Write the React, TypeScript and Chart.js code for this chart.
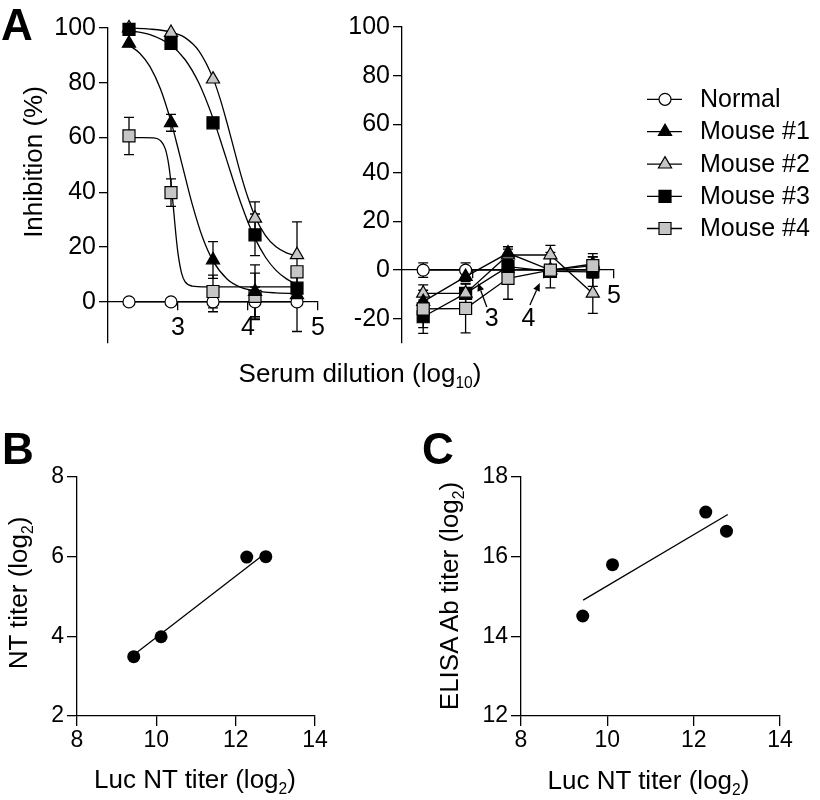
import React, { useEffect, useRef } from 'react';
import { Chart, registerables } from 'chart.js';

Chart.register(...registerables);

const FONT = '"Liberation Sans", Arial, Helvetica, sans-serif';
const GRAY = '#c6c6c6';

// ---------- Panel A data ----------
const dilutionLog10 = [2.3, 2.9, 3.5, 4.1, 4.7];
const seriesLabels = ['Normal', 'Mouse #1', 'Mouse #2', 'Mouse #3', 'Mouse #4'];

// left plot
const normalLeft = [0, 0, 0, 0, 0];
const normalLeftErr = [0, 0, 3.6, 5.4, 10.8];
const mouse1Left = [94.4, 65.4, 15.3, 3.8, 2.6];
const mouse1LeftErr = [0, 3.1, 6.7, 9.7, 0];
const mouse2Left = [100, 98.3, 81.3, 30.5, 17.2];
const mouse2LeftErr = [0, 0, 0, 6, 12];
const mouse3Left = [99.5, 94.4, 65.4, 24.5, 5];
const mouse3LeftErr = [0, 0, 0, 7.6, 0];
const mouse4Left = [60.6, 39.9, 3.8, 2, 11];
const mouse4LeftErr = [6.8, 5, 6, 8.5, 0];

// fitted curves
const fit1X = [2.3, 2.45, 2.6, 2.75, 2.9, 3.0, 3.1, 3.2, 3.35, 3.5, 3.7, 3.9, 4.1, 4.4, 4.7];
const fit1Y = [93.7, 90.9, 85.9, 77.7, 65.8, 56.1, 45.9, 36.0, 23.6, 15.0, 8.4, 5.3, 4.0, 3.3, 3.1];
const fit2X = [2.3, 2.6, 2.9, 3.1, 3.3, 3.5, 3.6, 3.7, 3.8, 3.9, 4.0, 4.1, 4.25, 4.4, 4.55, 4.7];
const fit2Y = [99.9, 99.6, 98.5, 96.5, 91.6, 81.7, 74.3, 65.4, 55.8, 46.3, 38.0, 31.2, 24.2, 20.1, 17.9, 16.7];
const fit3X = [2.3, 2.6, 2.9, 3.1, 3.3, 3.5, 3.6, 3.7, 3.8, 3.9, 4.0, 4.1, 4.25, 4.4, 4.55, 4.7];
const fit3Y = [99.1, 97.6, 93.7, 88.5, 79.8, 67.1, 59.5, 51.5, 43.5, 35.9, 29.1, 23.2, 16.3, 11.5, 8.4, 6.3];
const fit4X = [2.3, 2.5, 2.65, 2.75, 2.82, 2.87, 2.91, 2.94, 2.97, 3.0, 3.05, 3.1, 3.2, 3.4, 4.0, 4.7];
const fit4Y = [60.0, 60.0, 59.9, 58.9, 55.8, 49.7, 41.0, 32.8, 24.5, 17.7, 10.6, 7.4, 5.8, 5.5, 5.5, 5.5];

// right plot
const normalRight = [0, 0, 0, 0, 0];
const normalRightErr = [3, 3, 0, 0, 0];
const mouse1Right = [-13, -2.7, 7, 0, 2.5];
const mouse1RightErr = [0, 2, 2.6, 1, 3];
const mouse2Right = [-9.6, -9.6, 6.2, 6.2, -9.6];
const mouse2RightErr = [3.5, 0, 2.4, 4, 8.2];
const mouse3Right = [-19.2, -9.6, 1.4, -0.5, -0.7];
const mouse3RightErr = [6.8, 4, 2, 2, 6];
const mouse4Right = [-16, -15.8, -3.4, 0, 1.8];
const mouse4RightErr = [7.7, 10, 8.6, 7.3, 5];

const yTicksLeft = [0, 20, 40, 60, 80, 100];
const yTicksRight = [-20, 0, 20, 40, 60, 80, 100];
const xTicksA = [3, 4, 5];

// ---------- Panel B / C data ----------
const lucNtTiter = [9.43, 10.12, 12.28, 12.76];
const ntTiter = [3.49, 3.99, 5.99, 6.0];
const fitBX = [9.45, 12.7];
const fitBY = [3.55, 6.05];
const elisaTiter = [14.51, 15.8, 17.12, 16.64];
const fitCX = [9.44, 12.79];
const fitCY = [14.91, 17.06];
const titerTicks = [8, 10, 12, 14];
const ntTicks = [2, 4, 6, 8];
const elisaTicks = [12, 14, 16, 18];

// ---------- styles ----------
const markerStyles = [
  { pointStyle: 'circle', fill: '#ffffff', radius: 6 },
  { pointStyle: 'triangle', fill: '#000000', radius: 7.6 },
  { pointStyle: 'triangle', fill: GRAY, radius: 7.6 },
  { pointStyle: 'rect', fill: '#000000', radius: 8.5 },
  { pointStyle: 'rect', fill: GRAY, radius: 8.5 },
];

const pts = (xs: number[], ys: number[]) => xs.map((x, i) => ({ x, y: ys[i] }));

function markerDataset(i: number, ys: number[], errs: number[], order: number, showLine: boolean) {
  const s = markerStyles[i];
  return {
    label: seriesLabels[i],
    data: pts(dilutionLog10, ys),
    errors: errs,
    showLine,
    borderColor: '#000',
    borderWidth: 1.3,
    pointStyle: s.pointStyle,
    pointRadius: s.radius,
    pointBackgroundColor: s.fill,
    pointBorderColor: '#000',
    pointBorderWidth: 1.2,
    order,
    clip: false,
  };
}

function curveDataset(xs: number[], ys: number[]) {
  return {
    label: '',
    data: pts(xs, ys),
    showLine: true,
    pointRadius: 0,
    borderColor: '#000',
    borderWidth: 1.3,
    cubicInterpolationMode: 'monotone',
    order: 20,
    clip: false,
  };
}

const errorBarPlugin = {
  id: 'errorBars',
  beforeDatasetsDraw(chart: any) {
    const ctx = chart.ctx;
    const yScale = chart.scales.y;
    chart.data.datasets.forEach((ds: any, i: number) => {
      const errs = ds.errors;
      if (!errs) return;
      const meta = chart.getDatasetMeta(i);
      ctx.save();
      ctx.strokeStyle = '#000';
      ctx.lineWidth = 1.3;
      meta.data.forEach((pt: any, j: number) => {
        const e = errs[j];
        if (!e) return;
        const v = ds.data[j].y;
        const yTop = yScale.getPixelForValue(v + e);
        const yBot = yScale.getPixelForValue(v - e);
        const x = pt.x;
        const cap = 5;
        ctx.beginPath();
        ctx.moveTo(x, yTop);
        ctx.lineTo(x, yBot);
        ctx.moveTo(x - cap, yTop);
        ctx.lineTo(x + cap, yTop);
        ctx.moveTo(x - cap, yBot);
        ctx.lineTo(x + cap, yBot);
        ctx.stroke();
      });
      ctx.restore();
    });
  },
};

function drawMarker(ctx: CanvasRenderingContext2D, style: string, x: number, y: number, r: number, fill: string) {
  ctx.beginPath();
  if (style === 'circle') {
    ctx.arc(x, y, r, 0, Math.PI * 2);
  } else if (style === 'triangle') {
    for (let k = 0; k < 3; k++) {
      const a = (k * 2 * Math.PI) / 3;
      const px = x + Math.sin(a) * r;
      const py = y - Math.cos(a) * r;
      if (k === 0) ctx.moveTo(px, py);
      else ctx.lineTo(px, py);
    }
    ctx.closePath();
  } else {
    const s = r * Math.SQRT1_2;
    ctx.rect(x - s, y - s, 2 * s, 2 * s);
  }
  ctx.fillStyle = fill;
  ctx.fill();
  ctx.lineWidth = 1.2;
  ctx.strokeStyle = '#000';
  ctx.stroke();
}

// legend layout (canvas pixels of the right-hand panel A canvas)
const legendLayout = { lineX0: 317, markerX: 335, lineX1: 352, textX: 370, rowY: [99.3, 131.7, 164.2, 196.3, 228.5], fontSize: 25 };

const legendPlugin = {
  id: 'seriesLegend',
  afterDraw(chart: any) {
    const ctx = chart.ctx as CanvasRenderingContext2D;
    ctx.save();
    seriesLabels.forEach((label, i) => {
      const y = legendLayout.rowY[i];
      const s = markerStyles[i];
      ctx.beginPath();
      ctx.moveTo(legendLayout.lineX0, y);
      ctx.lineTo(legendLayout.lineX1, y);
      ctx.lineWidth = 1.3;
      ctx.strokeStyle = '#000';
      ctx.stroke();
      drawMarker(ctx, s.pointStyle, legendLayout.markerX, y, s.radius, s.fill);
      ctx.fillStyle = '#000';
      ctx.font = `${legendLayout.fontSize}px ${FONT}`;
      ctx.textAlign = 'left';
      ctx.textBaseline = 'alphabetic';
      ctx.fillText(label, legendLayout.textX, y + 7.5);
    });
    ctx.restore();
  },
};

// displaced tick labels "3" and "4" with arrows (data coordinates)
const tickCallouts = [
  { text: '3', at: { x: 3.27, y: -20.2 }, tail: { x: 3.2, y: -15.2 }, tip: { x: 3.075, y: -5.3 } },
  { text: '4', at: { x: 3.79, y: -20.2 }, tail: { x: 3.81, y: -14.4 }, tip: { x: 3.95, y: -5.3 } },
];

const calloutPlugin = {
  id: 'tickCallouts',
  afterDatasetsDraw(chart: any) {
    const ctx = chart.ctx as CanvasRenderingContext2D;
    const xs = chart.scales.x;
    const ys = chart.scales.y;
    ctx.save();
    tickCallouts.forEach((c) => {
      const lx = xs.getPixelForValue(c.at.x);
      const ly = ys.getPixelForValue(c.at.y);
      ctx.fillStyle = '#000';
      ctx.font = `25px ${FONT}`;
      ctx.textAlign = 'center';
      ctx.textBaseline = 'middle';
      ctx.fillText(c.text, lx, ly);
      const tx = xs.getPixelForValue(c.tail.x);
      const ty = ys.getPixelForValue(c.tail.y);
      const hx = xs.getPixelForValue(c.tip.x);
      const hy = ys.getPixelForValue(c.tip.y);
      const ang = Math.atan2(hy - ty, hx - tx);
      const headLen = 8;
      const headW = 3.5;
      const bx = hx - Math.cos(ang) * headLen;
      const by = hy - Math.sin(ang) * headLen;
      ctx.beginPath();
      ctx.moveTo(tx, ty);
      ctx.lineTo(bx, by);
      ctx.lineWidth = 1.3;
      ctx.strokeStyle = '#000';
      ctx.stroke();
      ctx.beginPath();
      ctx.moveTo(hx, hy);
      ctx.lineTo(bx + Math.sin(ang) * headW, by - Math.cos(ang) * headW);
      ctx.lineTo(bx - Math.sin(ang) * headW, by + Math.cos(ang) * headW);
      ctx.closePath();
      ctx.fill();
    });
    ctx.restore();
  },
};

function axisBase(fontSize: number, tickLength: number, padding: number) {
  return {
    type: 'linear',
    border: { display: true, color: '#000', width: 1.3 },
    grid: { display: true, drawOnChartArea: false, drawTicks: true, tickLength, tickWidth: 1.3, tickColor: '#000', color: '#000', lineWidth: 1.3 },
    ticks: { color: '#000', font: { family: FONT, size: fontSize }, padding, autoSkip: false, maxRotation: 0, minRotation: 0 },
  };
}

function setTicks(values: number[]) {
  return (s: any) => {
    s.ticks = values.map((v) => ({ value: v }));
  };
}

function fixWidth(w: number) {
  return (s: any) => {
    s.width = w;
    s.paddingTop = 0;
    s.paddingBottom = 0;
  };
}

function fixHeight(h: number) {
  return (s: any) => {
    s.height = h;
    s.paddingLeft = 0;
    s.paddingRight = 0;
  };
}

function baseOptions(padding: any, scales: any) {
  return {
    responsive: false,
    animation: false,
    events: [],
    layout: { padding },
    plugins: { legend: { display: false }, tooltip: { enabled: false }, title: { display: false } },
    scales,
  };
}

function configALeft() {
  return {
    type: 'scatter',
    data: {
      datasets: [
        markerDataset(0, normalLeft, normalLeftErr, 5, true),
        markerDataset(1, mouse1Left, mouse1LeftErr, 1, false),
        markerDataset(2, mouse2Left, mouse2LeftErr, 4, false),
        markerDataset(3, mouse3Left, mouse3LeftErr, 2, false),
        markerDataset(4, mouse4Left, mouse4LeftErr, 3, false),
        curveDataset(fit1X, fit1Y),
        curveDataset(fit2X, fit2Y),
        curveDataset(fit3X, fit3Y),
        curveDataset(fit4X, fit4Y),
      ],
    },
    options: baseOptions(
      { top: 28, right: 12, bottom: 17, left: 0 },
      {
        x: { ...axisBase(25, 8, 3), min: 2, max: 5, position: { y: 0 }, afterBuildTicks: setTicks(xTicksA), afterFit: fixHeight(0) },
        y: { ...axisBase(25, 9, 3), min: -15, max: 100, position: 'left', afterBuildTicks: setTicks(yTicksLeft), afterFit: fixWidth(108) },
      }
    ),
    plugins: [errorBarPlugin],
  };
}

function configARight() {
  const xAxis: any = { ...axisBase(25, 8, 3), min: 2, max: 5, position: { y: 0 }, afterBuildTicks: setTicks(xTicksA), afterFit: fixHeight(0) };
  xAxis.ticks = { ...xAxis.ticks, callback: (v: number) => (v === 5 ? '5' : '') };
  return {
    type: 'scatter',
    data: {
      datasets: [
        markerDataset(0, normalRight, normalRightErr, 5, true),
        markerDataset(1, mouse1Right, mouse1RightErr, 2, true),
        markerDataset(2, mouse2Right, mouse2RightErr, 3, true),
        markerDataset(3, mouse3Right, mouse3RightErr, 4, true),
        markerDataset(4, mouse4Right, mouse4RightErr, 1, true),
      ],
    },
    options: baseOptions(
      { top: 27, right: 206, bottom: 17, left: 0 },
      {
        x: xAxis,
        y: { ...axisBase(25, 9, 3), min: -30, max: 100, position: 'left', afterBuildTicks: setTicks(yTicksRight), afterFit: fixWidth(72) },
      }
    ),
    plugins: [errorBarPlugin, calloutPlugin, legendPlugin],
  };
}

function configScatter(ys: number[], fitX: number[], fitY: number[], yMin: number, yMax: number, yTicks: number[], yWidth: number, padRight: number) {
  return {
    type: 'scatter',
    data: {
      datasets: [
        { label: 'titers', data: pts(lucNtTiter, ys), pointRadius: 6.5, pointBackgroundColor: '#000', pointBorderColor: '#000', pointBorderWidth: 0, showLine: false, order: 1, clip: false },
        { label: 'fit', data: pts(fitX, fitY), showLine: true, pointRadius: 0, borderColor: '#000', borderWidth: 1.3, order: 2, clip: false },
      ],
    },
    options: baseOptions(
      { top: 37, right: padRight, bottom: 0, left: 0 },
      {
        x: { ...axisBase(23, 10, 1), min: 8, max: 14, position: 'bottom', afterBuildTicks: setTicks(titerTicks), afterFit: fixHeight(84) },
        y: { ...axisBase(23, 10, 3), min: yMin, max: yMax, position: 'left', afterBuildTicks: setTicks(yTicks), afterFit: fixWidth(yWidth) },
      }
    ),
  };
}

function ChartCanvas({ left, top, width, height, makeConfig }: { left: number; top: number; width: number; height: number; makeConfig: () => any }) {
  const ref = useRef<HTMLCanvasElement>(null);
  useEffect(() => {
    const chart = new Chart(ref.current as HTMLCanvasElement, makeConfig());
    return () => chart.destroy();
  }, []);
  return <canvas ref={ref} width={width} height={height} style={{ position: 'absolute', left, top, width, height }} />;
}

const TITLE_SIZE = 26;
const TITLE_ASC = 0.8465 * TITLE_SIZE;

const textBase: React.CSSProperties = {
  position: 'absolute',
  fontFamily: FONT,
  fontSize: TITLE_SIZE,
  lineHeight: 1,
  whiteSpace: 'nowrap',
  color: '#000',
};

const Sub = ({ children }: { children: React.ReactNode }) => (
  <span style={{ fontSize: '0.6em', position: 'relative', top: '0.38em' }}>{children}</span>
);

function VTitle({ cx, cy, children }: { cx: number; cy: number; children: React.ReactNode }) {
  return <div style={{ ...textBase, left: cx, top: cy, transform: 'translate(-50%, -50%) rotate(-90deg)' }}>{children}</div>;
}

function HTitle({ cx, baseline, children }: { cx: number; baseline: number; children: React.ReactNode }) {
  return <div style={{ ...textBase, left: cx, top: baseline - TITLE_ASC, transform: 'translateX(-50%)' }}>{children}</div>;
}

function PanelLetter({ x, baseline, children }: { x: number; baseline: number; children: React.ReactNode }) {
  return (
    <div style={{ ...textBase, fontSize: 44, fontWeight: 'bold', left: x, top: baseline - 37.2 }}>{children}</div>
  );
}

export default function App() {
  return (
    <div style={{ position: 'absolute', left: 0, top: 0, width: 820, height: 800, background: '#fff', overflow: 'hidden' }}>
      <ChartCanvas left={0} top={0} width={330} height={360} makeConfig={configALeft} />
      <ChartCanvas left={330} top={0} width={490} height={360} makeConfig={configARight} />
      <ChartCanvas left={0} top={440} width={340} height={360} makeConfig={() => configScatter(ntTiter, fitBX, fitBY, 2, 8, ntTicks, 77, 25)} />
      <ChartCanvas left={420} top={440} width={400} height={360} makeConfig={() => configScatter(elisaTiter, fitCX, fitCY, 12, 18, elisaTicks, 101, 40)} />

      <PanelLetter x={1} baseline={40}>A</PanelLetter>
      <PanelLetter x={2} baseline={464}>B</PanelLetter>
      <PanelLetter x={422} baseline={464}>C</PanelLetter>

      <VTitle cx={32.7} cy={162}>Inhibition (%)</VTitle>
      <HTitle cx={360} baseline={382}>
        Serum dilution (log<Sub>10</Sub>)
      </HTitle>
      <VTitle cx={18} cy={592.5}>
        NT titer (log<Sub>2</Sub>)
      </VTitle>
      <HTitle cx={195} baseline={788.5}>
        Luc NT titer (log<Sub>2</Sub>)
      </HTitle>
      <VTitle cx={449} cy={596}>
        ELISA Ab titer (log<Sub>2</Sub>)
      </VTitle>
      <HTitle cx={648.5} baseline={789}>
        Luc NT titer (log<Sub>2</Sub>)
      </HTitle>
    </div>
  );
}
